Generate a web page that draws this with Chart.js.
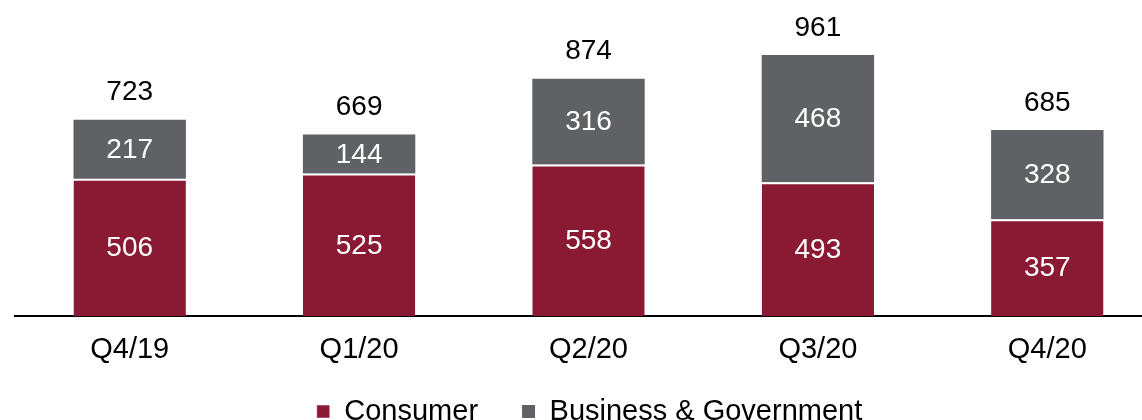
<!DOCTYPE html>
<html>
<head>
<meta charset="utf-8">
<script src="https://cdn.jsdelivr.net/npm/chart.js@4"></script>
<style>
	html, body { margin: 0; padding: 0; overflow: hidden; background: #fff; }
	#wrap { width: 1162px; height: 460px; }
</style>
</head>
<body>
<div id="wrap"><canvas id="myChart" width="1162" height="460"></canvas></div>
<script>
const quarters = ['Q4/19', 'Q1/20', 'Q2/20', 'Q3/20', 'Q4/20'];
const consumer = [506, 525, 558, 493, 357];
const business = [217, 144, 316, 468, 328];

const FONT = "'Liberation Sans', Arial, sans-serif";

// 막대 안/위 숫자 표시
const valueLabels = {
	id: 'valueLabels',
	afterLayout(chart) {
		// 범례 간격(padding)이 커서 아래로 밀린 만큼 위로 올림
		chart.legend.top -= 22;
		chart.legend.bottom -= 22;
		chart.legend.left += 1;
		chart.legend.right += 1;
	},
	afterDatasetsDraw(chart) {
		const c = chart.ctx;
		c.save();
		c.font = '28px ' + FONT;
		c.textAlign = 'center';
		c.textBaseline = 'middle';
		chart.data.datasets.forEach((ds, i) => {
			const meta = chart.getDatasetMeta(i);
			meta.data.forEach((bar, j) => {
				c.fillStyle = '#ffffff';
				c.fillText(ds.data[j], bar.x, (bar.y + bar.base) / 2 + 1);
			});
		});
		const top = chart.getDatasetMeta(chart.data.datasets.length - 1);
		top.data.forEach((bar, j) => {
			c.fillStyle = '#000000';
			c.fillText(consumer[j] + business[j], bar.x, bar.y - 27);
		});
		c.restore();
	}
};

const ctx = document.getElementById('myChart').getContext('2d');
const myChart = new Chart(ctx, {
	type: 'bar',
	data: {
		labels: quarters,
		datasets: [{
			label: 'Consumer',
			data: consumer,
			backgroundColor: '#8a1a33',
			borderColor: '#ffffff',
			borderWidth: { top: 2 },
			borderSkipped: false,
			barPercentage: 0.49,
			categoryPercentage: 1
		}, {
			label: 'Business & Government',
			data: business,
			backgroundColor: '#5f6164',
			barPercentage: 0.49,
			categoryPercentage: 1
		}]
	},
	options: {
		responsive: false,
		animation: false,
		layout: { padding: { left: 15, right: 0, top: 1, bottom: 2 } },
		scales: {
			x: {
				stacked: true,
				grid: { display: false },
				border: { display: true, color: '#000000', width: 2 },
				ticks: { color: '#000000', font: { size: 29, family: FONT }, padding: 8 }
			},
			y: {
				stacked: true,
				display: false,
				min: 0,
				max: 1160
			}
		},
		plugins: {
			tooltip: { enabled: false },
			legend: {
				position: 'bottom',
				labels: {
					color: '#000000',
					font: { size: 29, family: FONT },
					boxWidth: 13,
					boxHeight: 13,
					padding: 44
				}
			}
		}
	},
	plugins: [valueLabels]
});
</script>
</body>
</html>
